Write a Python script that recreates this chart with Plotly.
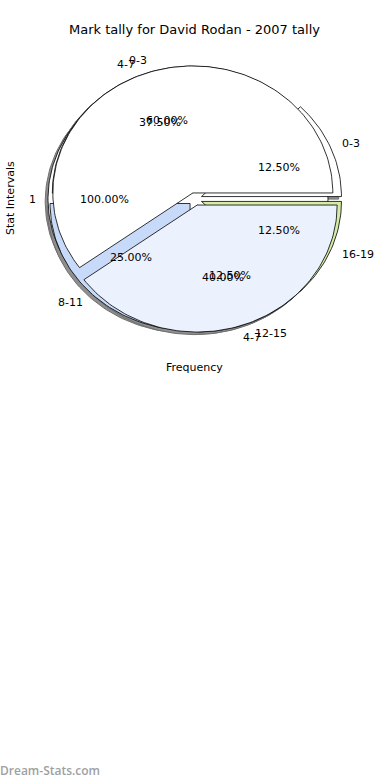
import numpy as np
import plotly.graph_objects as go

title_text = "Mark tally for David Rodan - 2007 tally"
x_title = "Frequency"
y_title = "Stat Intervals"
watermark = "Dream-Stats.com"

pie_a_labels = ["1"]
pie_a_values = [1]
pie_b_labels = ["0-3", "4-7"]
pie_b_values = [3, 2]
pie_c_labels = ["0-3", "4-7", "8-11", "12-15", "16-19"]
pie_c_values = [1, 3, 2, 1, 1]

palette = ["#ffffff", "#ebf1fd", "#c8dafa", "#ebf1fd", "#d6eba6"]

W, H = 390, 780
CX, CY = 195, 199      # pixel centre of the pies
RX, RY = 140, 127      # pixels per data unit
EXPLODE = 0.05
LABEL_D, PCT_D = 1.1, 0.6
SHADOW = (-0.02, -0.02)

pies = [(pie_a_labels, pie_a_values), (pie_b_labels, pie_b_values), (pie_c_labels, pie_c_values)]
draw_order = [0, 2, 1]


def wedges(labels, values):
    v = np.asarray(values, dtype=float)
    frac = v / v.sum()
    out = []
    start = 0.0
    for i, (lab, f) in enumerate(zip(labels, frac)):
        t1, t2 = start, start + 360.0 * f
        mid = np.deg2rad((t1 + t2) / 2)
        ox, oy = EXPLODE * np.cos(mid), EXPLODE * np.sin(mid)
        out.append(dict(label=lab, frac=f, t1=t1, t2=t2, mid=mid, ox=ox, oy=oy, color=palette[i % len(palette)]))
        start = t2
    return out


def wedge_path(w, dx=0.0, dy=0.0):
    n = max(8, int((w["t2"] - w["t1"]) / 1.5))
    th = np.deg2rad(np.linspace(w["t1"], w["t2"], n))
    xs = w["ox"] + dx + np.cos(th)
    ys = w["oy"] + dy + np.sin(th)
    if w["t2"] - w["t1"] < 359.999:
        xs = np.concatenate([[w["ox"] + dx], xs, [w["ox"] + dx]])
        ys = np.concatenate([[w["oy"] + dy], ys, [w["oy"] + dy]])
    return xs, ys


fig = go.Figure()
all_w = [wedges(*p) for p in pies]

# shadows (below every wedge)
for k in draw_order:
    for w in all_w[k]:
        xs, ys = wedge_path(w, *SHADOW)
        fig.add_trace(go.Scatter(x=xs, y=ys, mode="lines", fill="toself",
                                 fillcolor="#8f8f8f", line=dict(color="#707070", width=1),
                                 hoverinfo="skip", showlegend=False))
# wedges
for k in draw_order:
    for w in all_w[k]:
        xs, ys = wedge_path(w)
        fig.add_trace(go.Scatter(x=xs, y=ys, mode="lines", fill="toself",
                                 fillcolor=w["color"], line=dict(color="#000000", width=0.8),
                                 hoverinfo="skip", showlegend=False))

font = dict(family="DejaVu Sans", size=11, color="#000000")
annotations = []
for k in range(len(pies)):
    for w in all_w[k]:
        lx = w["ox"] + LABEL_D * np.cos(w["mid"])
        ly = w["oy"] + LABEL_D * np.sin(w["mid"])
        right = lx > 0
        annotations.append(dict(x=lx, y=ly, xref="x", yref="y", text=w["label"], showarrow=False,
                                xanchor="left" if right else "right", yanchor="middle",
                                xshift=-4 if right else 4, font=font))
        px = w["ox"] + PCT_D * np.cos(w["mid"])
        py = w["oy"] + PCT_D * np.sin(w["mid"])
        annotations.append(dict(x=px, y=py, xref="x", yref="y", text=f"{w['frac']*100:.2f}%",
                                showarrow=False, xanchor="center", yanchor="middle", font=font))

annotations += [
    dict(x=194.5 / W, y=1 - 30 / H, xref="paper", yref="paper", text=title_text, showarrow=False,
         xanchor="center", yanchor="middle", font=dict(family="DejaVu Sans", size=13, color="#000000")),
    dict(x=194 / W, y=1 - 367 / H, xref="paper", yref="paper", text=x_title, showarrow=False,
         xanchor="center", yanchor="middle", font=font),
    dict(x=10 / W, y=1 - 198 / H, xref="paper", yref="paper", text=y_title, showarrow=False,
         textangle=-90, xanchor="center", yanchor="middle", font=font),
    dict(x=0, y=1 - 770 / H, xref="paper", yref="paper", text=watermark, showarrow=False,
         xanchor="left", yanchor="middle", xshift=-2,
         font=dict(family="Open Sans", size=12, color="#a0a0a0", weight=600)),
]

fig.update_layout(
    width=W, height=H, margin=dict(l=0, r=0, t=0, b=0),
    paper_bgcolor="#ffffff", plot_bgcolor="#ffffff",
    xaxis=dict(range=[-CX / RX, (W - CX) / RX], visible=False, fixedrange=True),
    yaxis=dict(range=[-(H - CY) / RY, CY / RY], visible=False, fixedrange=True),
    annotations=annotations, showlegend=False,
)

fig.write_html("out.html", post_script="document.body.style.margin='0';",
               config={"displayModeBar": False})
